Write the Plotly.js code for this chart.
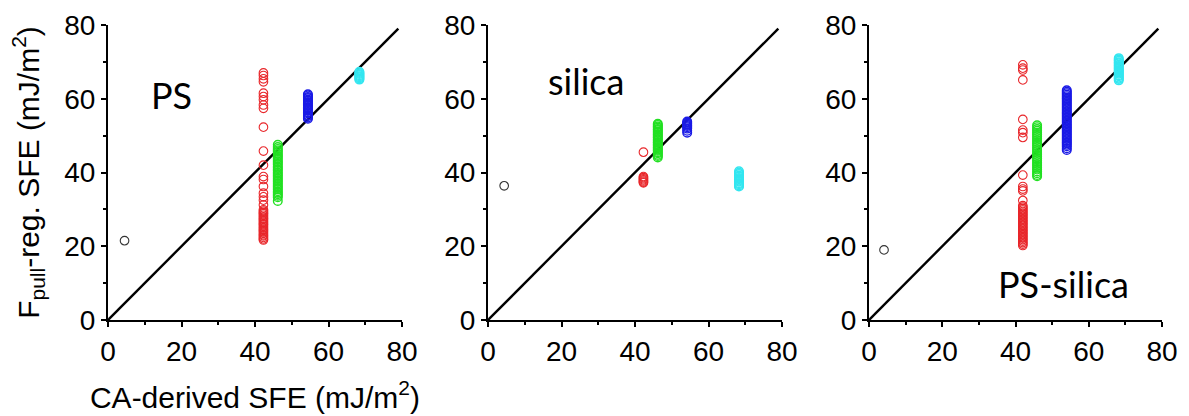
<!DOCTYPE html>
<html>
<head>
<meta charset="utf-8">
<script src="https://cdn.plot.ly/plotly-3.0.1.min.js"></script>
<style>html,body{margin:0;padding:0;background:#fff;}#chart{width:1189px;height:416px;}</style>
</head>
<body>
<div id="chart"></div>
<script>
// ---------- data ----------
const panelNames = ["PS", "silica", "PS-silica"];
const tickVals = [0, 20, 40, 60, 80];
const tickText = ["0", "20", "40", "60", "80"];
const minorVals = [10, 30, 50, 70];
const diagX = [0, 79];
const diagY = [0, 79];

// PS panel
const psBlackX = [4.5],  psBlackY = [21.5];
const psRedX = 42.3;
const psRedY = [67.0, 66.3, 65.4, 64.6, 61.5, 60.6, 59.7, 58.3, 57.4, 52.3, 45.8, 42.0, 38.9, 38.1, 36.2, 34.4, 33.4, 32.5, 31.2,
  29.9, 29.5, 29.1, 28.8, 28.4, 28.0, 27.6, 27.3, 26.9, 26.5, 26.1, 25.8, 25.4, 25.0, 24.6, 24.3, 23.9, 23.5, 23.1, 22.8, 22.4, 22.0, 21.7];
const psGreenX = 46.2;
const psGreenY = [47.5, 46.9, 46.4, 46.0, 45.6, 45.1, 44.7, 44.3, 43.9, 43.4, 43.0, 42.6, 42.2, 41.7, 41.3, 40.9, 40.5, 40.0, 39.6,
  39.2, 38.8, 38.3, 37.9, 37.5, 37.1, 36.6, 36.2, 35.8, 35.4, 34.9, 34.5, 34.1, 33.7, 33.3, 32.3];
const psBlueX = 54.4;
const psBlueY = [61.2, 60.9, 60.5, 60.2, 59.8, 59.5, 59.1, 58.8, 58.4, 58.1, 57.7, 57.4, 57.0, 56.7, 56.3, 56.0, 55.6, 55.3, 54.9, 54.6];
const psCyanX = 68.4;
const psCyanY = [67.3, 67.0, 66.7, 66.4, 66.1, 65.8, 65.5, 65.2];

// silica panel
const siBlackX = [4.4], siBlackY = [36.4];
const siRedX = 42.3;
const siRedY = [45.5, 38.9, 38.6, 38.3, 38.0, 37.7, 37.4, 37.2];
const siGreenX = 46.2;
const siGreenY = [53.2, 52.9, 52.5, 52.2, 51.8, 51.5, 51.1, 50.8, 50.4, 50.1, 49.7, 49.4, 49.0, 48.7, 48.3, 48.0, 47.6, 47.3,
  46.9, 46.6, 46.2, 45.9, 45.5, 45.2, 44.8, 44.5, 44.1];
const siBlueX = 54.2;
const siBlueY = [53.8, 53.5, 53.2, 52.9, 52.6, 52.3, 51.9, 51.3, 50.8];
const siCyanX = 68.3;
const siCyanY = [40.3, 39.9, 39.6, 39.2, 38.9, 38.5, 38.2, 37.8, 37.5, 37.1, 36.8, 36.5, 36.2];

// PS-silica panel
const pssBlackX = [4.1], pssBlackY = [19.0];
const pssRedX = 42.0;
const pssRedY = [69.2, 68.3, 67.8, 65.1, 54.4, 51.5, 50.8, 49.5, 39.3, 36.2, 35.5, 35.0, 32.4,
  31.0, 30.6, 30.2, 29.8, 29.4, 29.0, 28.6, 28.2, 27.8, 27.4, 27.0, 26.6, 26.2, 25.8, 25.4, 25.0, 24.6, 24.2, 23.8, 23.4,
  23.0, 22.6, 22.2, 21.8, 21.4, 21.0, 20.6, 20.2];
const pssGreenX = 45.9;
const pssGreenY = [52.8, 52.3, 51.8, 51.3, 50.8, 50.3, 49.8, 49.3, 48.8, 48.3, 47.8, 47.3, 46.8, 46.3, 45.8, 45.3, 44.8, 44.3,
  43.8, 43.3, 42.8, 42.3, 41.8, 41.3, 40.8, 40.3, 39.8, 39.3, 39.0];
const pssBlueX = 54.0;
const pssBlueY = [62.3, 61.9, 61.5, 61.1, 60.7, 60.3, 59.9, 59.5, 59.1, 58.7, 58.3, 57.9, 57.5, 57.1, 56.7, 56.3, 55.9, 55.5,
  55.1, 54.7, 54.3, 53.9, 53.5, 53.1, 52.7, 52.3, 51.9, 51.5, 51.1, 50.7, 50.3, 49.9, 49.5, 49.1, 48.7, 48.3, 47.9, 47.5,
  47.1, 46.6, 46.1];
const pssCyanX = 68.2;
const pssCyanY = [71.0, 70.6, 70.3, 69.9, 69.6, 69.2, 68.9, 68.5, 68.2, 67.8, 67.5, 67.1, 66.8, 66.4, 66.1, 65.7, 65.4, 65.0];

// ---------- styling ----------
const COLORS = {black: "#333333", red: "#e8262a", green: "#22e022", blue: "#1a1ae6", cyan: "#33e6f0"};
const tickFont = {family: "Liberation Sans, Arial, sans-serif", size: 28, color: "#000"};
const titleFont = {family: "Liberation Sans, Arial, sans-serif", size: 30, color: "#000"};
const labelFont = {family: "Lato, sans-serif", size: 36, color: "#000"};

function pts(x, ys, color, ax, lw) {
  const xs = Array.isArray(x) ? x : ys.map(() => x);
  return {
    type: "scatter", mode: "markers", x: xs, y: ys,
    xaxis: "x" + ax, yaxis: "y" + ax, showlegend: false, hoverinfo: "x+y",
    marker: {symbol: "circle-open", size: 8.6, color: color, line: {width: lw || 1.2, color: color}}
  };
}
function diag(ax) {
  return {type: "scatter", mode: "lines", x: diagX, y: diagY, xaxis: "x" + ax, yaxis: "y" + ax,
    showlegend: false, hoverinfo: "skip", line: {color: "#000", width: 2.4}};
}

const panels = [
  {ax: "", black: [psBlackX, psBlackY], red: [psRedX, psRedY], green: [psGreenX, psGreenY], blue: [psBlueX, psBlueY], cyan: [psCyanX, psCyanY]},
  {ax: "2", black: [siBlackX, siBlackY], red: [siRedX, siRedY], green: [siGreenX, siGreenY], blue: [siBlueX, siBlueY], cyan: [siCyanX, siCyanY]},
  {ax: "3", black: [pssBlackX, pssBlackY], red: [pssRedX, pssRedY], green: [pssGreenX, pssGreenY], blue: [pssBlueX, pssBlueY], cyan: [pssCyanX, pssCyanY]}
];

const traces = [];
panels.forEach(p => {
  traces.push(diag(p.ax));
  traces.push(pts(p.black[0], p.black[1], COLORS.black, p.ax, 1.1));
  traces.push(pts(p.red[0], p.red[1], COLORS.red, p.ax, 1.1));
  traces.push(pts(p.green[0], p.green[1], COLORS.green, p.ax, 1.4));
  traces.push(pts(p.blue[0], p.blue[1], COLORS.blue, p.ax, 1.4));
  traces.push(pts(p.cyan[0], p.cyan[1], COLORS.cyan, p.ax, 1.5));
});

function axisBase(extra) {
  return Object.assign({
    range: [0, 80], tickvals: tickVals, ticktext: tickText,
    showline: true, linewidth: 2, linecolor: "#000", mirror: false,
    ticks: "outside", ticklen: 5, tickwidth: 2, tickcolor: "#000",
    minor: {tickvals: minorVals, ticks: "outside", ticklen: 3, tickwidth: 2, tickcolor: "#000"},
    showgrid: false, zeroline: false, tickfont: tickFont, fixedrange: true
  }, extra);
}

const xDomains = [[108/1189, 402/1189], [488/1189, 782/1189], [869/1189, 1162/1189]];
const yDomain = [(416-320)/416, (416-25)/416];

const layout = {
  width: 1189, height: 416,
  margin: {l: 0, r: 0, t: 0, b: 0},
  paper_bgcolor: "#fff", plot_bgcolor: "#fff",
  xaxis: axisBase({domain: xDomains[0], anchor: "y",
    title: {text: "CA-derived SFE (mJ/m<sup>2</sup>)", font: titleFont, standoff: 21}}),
  yaxis: axisBase({domain: yDomain, anchor: "x",
    title: {text: "F<sub>pull</sub>-reg. SFE (mJ/m<sup>2</sup>)", font: titleFont, standoff: 16}}),
  xaxis2: axisBase({domain: xDomains[1], anchor: "y2"}),
  yaxis2: axisBase({domain: yDomain, anchor: "x2"}),
  xaxis3: axisBase({domain: xDomains[2], anchor: "y3"}),
  yaxis3: axisBase({domain: yDomain, anchor: "x3"}),
  annotations: [
    {xref: "x", yref: "y", x: 17.4, y: 61.0, text: panelNames[0], showarrow: false, font: labelFont, xanchor: "center", yanchor: "middle"},
    {xref: "x2", yref: "y2", x: 26.7, y: 64.8, text: panelNames[1], showarrow: false, font: labelFont, xanchor: "center", yanchor: "middle"},
    {xref: "x3", yref: "y3", x: 53.1, y: 9.8, text: panelNames[2], showarrow: false, font: labelFont, xanchor: "center", yanchor: "middle"}
  ]
};

Plotly.newPlot("chart", traces, layout, {displayModeBar: false, staticPlot: true});
</script>
</body>
</html>
